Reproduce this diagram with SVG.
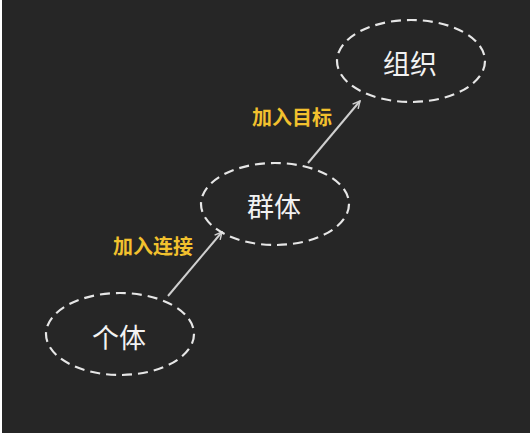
<svg xmlns="http://www.w3.org/2000/svg" width="530" height="435" viewBox="0 0 530 435">
<defs>
<style>
.node ellipse{fill:none;stroke:#e6e6e6;stroke-width:2.2;stroke-dasharray:10 6}
.node text{fill:#f2f2f2;font-family:"Noto Sans CJK SC","Noto Sans",sans-serif;font-size:27px;text-anchor:middle;dominant-baseline:central}
.lbl{fill:#f2c12e;font-family:"Noto Sans CJK SC","Noto Sans",sans-serif;font-size:20px;font-weight:bold;dominant-baseline:central}
.conn line{stroke:#cfcfcf;stroke-width:2;marker-end:url(#arr)}
</style>
<marker id="arr" viewBox="0 0 10 10" refX="9" refY="5" markerWidth="9" markerHeight="9" orient="auto" markerUnits="userSpaceOnUse">
<path d="M1,1 L9,5 L1,9" fill="none" stroke="#cfcfcf" stroke-width="1.6"/>
</marker>
</defs>
<rect width="530" height="435" fill="#ffffff"/>
<rect x="2" y="0" width="528" height="433" fill="#262626"/>
<g class="conn">
<line x1="168" y1="296" x2="222" y2="232"/>
<line x1="308" y1="163" x2="360" y2="101"/>
</g>
<g id="n1" class="node">
<ellipse cx="120" cy="334" rx="74" ry="41"/>
<text x="119" y="336">个体</text>
</g>
<g id="n2" class="node">
<ellipse cx="275" cy="204" rx="74" ry="41"/>
<text x="274" y="205">群体</text>
</g>
<g id="n3" class="node">
<ellipse cx="411" cy="61" rx="74" ry="41"/>
<text x="410" y="62">组织</text>
</g>
<text class="lbl" x="113" y="245">加入连接</text>
<text class="lbl" x="252" y="116">加入目标</text>
</svg>
